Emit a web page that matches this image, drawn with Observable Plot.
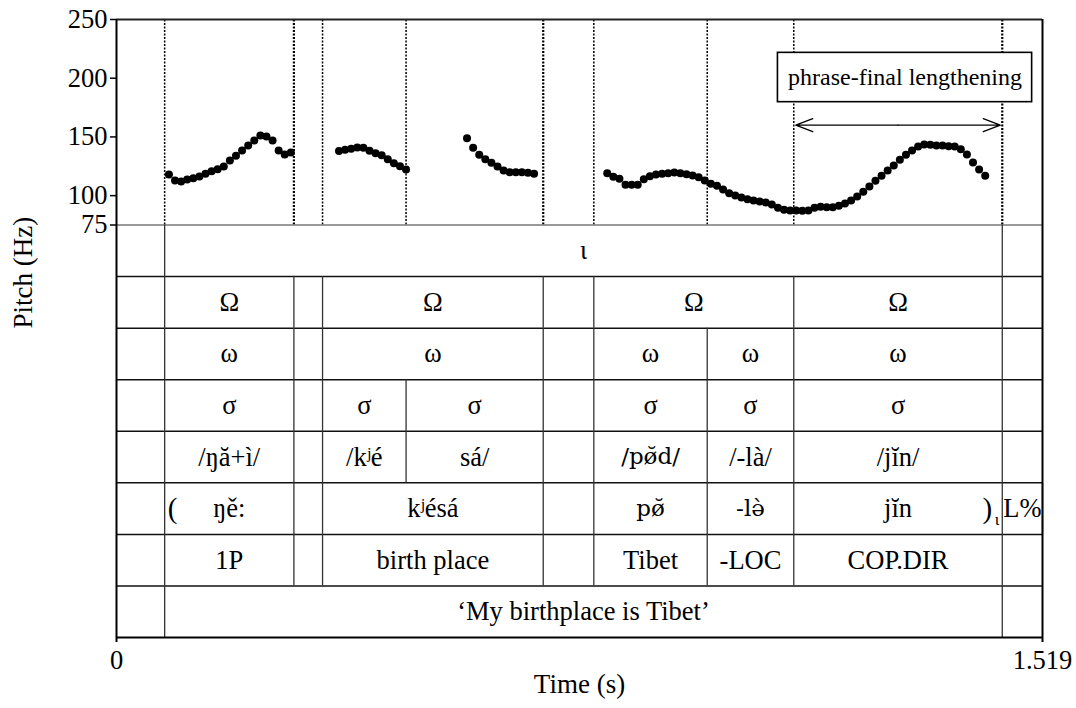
<!DOCTYPE html>
<html>
<head>
<meta charset="utf-8">
<script src="https://cdn.jsdelivr.net/npm/d3@7"></script>
<script src="https://cdn.jsdelivr.net/npm/@observablehq/plot@0.6"></script>
<style>
  html, body { margin: 0; padding: 0; background: #fff; }
  #chart svg { display: block; }
</style>
</head>
<body>
<div id="chart"></div>
<script>
// F0 track (Hz), one value every 10 ms across the four voiced stretches
const pitchTimes = [
  0.086, 0.096, 0.106, 0.116, 0.126, 0.136, 0.146, 0.156, 0.166, 0.176, 0.186,
  0.196, 0.206, 0.216, 0.226, 0.236, 0.246, 0.256, 0.266, 0.276, 0.286,
  0.365, 0.375, 0.385, 0.395, 0.405, 0.415, 0.425, 0.435, 0.445, 0.455, 0.465, 0.475,
  0.575, 0.585, 0.595, 0.605, 0.615, 0.625, 0.635, 0.645, 0.655, 0.665, 0.675, 0.685,
  0.805, 0.815, 0.825, 0.835, 0.845, 0.855, 0.865, 0.875, 0.885, 0.895,
  0.905, 0.915, 0.925, 0.935, 0.945, 0.955, 0.965, 0.975, 0.985, 0.995,
  1.005, 1.015, 1.025, 1.035, 1.045, 1.055, 1.065, 1.075, 1.085, 1.095,
  1.105, 1.115, 1.125, 1.135, 1.145, 1.155, 1.165, 1.175, 1.185, 1.195,
  1.205, 1.215, 1.225, 1.235, 1.245, 1.255, 1.265, 1.275, 1.285, 1.295,
  1.305, 1.315, 1.325, 1.335, 1.345, 1.355, 1.365, 1.375, 1.385, 1.395,
  1.405, 1.415, 1.425
];
const pitchHz = [
  118.0, 112.9, 112.0, 113.7, 114.9, 116.3, 118.6, 120.8, 122.5, 124.8, 129.9,
  133.9, 138.4, 142.7, 147.0, 151.2, 150.4, 147.0, 138.4, 135.0, 136.7,
  138.0, 139.0, 140.0, 141.0, 140.7, 138.3, 136.1, 134.4, 131.0, 127.6, 125.1, 122.3,
  148.9, 140.7, 134.8, 131.0, 128.0, 124.8, 121.4, 120.0, 120.0, 120.0, 119.5, 118.6,
  119.1, 116.0, 114.3, 109.2, 109.2, 109.2, 114.0, 116.6, 118.0, 118.6,
  119.1, 119.7, 119.1, 118.3, 117.2, 115.7, 112.9, 110.1, 108.4, 105.2,
  102.1, 100.1, 98.4, 97.0, 95.9, 95.0, 94.2, 92.5, 89.6, 87.9,
  87.3, 87.3, 87.1, 87.3, 89.6, 90.5, 90.2, 90.2, 91.4, 93.3,
  95.9, 99.3, 103.3, 107.8, 112.6, 116.9, 121.4, 125.7, 130.5, 134.8,
  138.4, 141.9, 143.6, 143.3, 142.7, 142.7, 142.1, 141.9, 139.6, 135.0,
  128.2, 122.3, 116.9
];

// Segmentation points (s)
const boundaryTimes = [0.079, 0.291, 0.338, 0.475, 0.700, 0.783, 0.969, 1.111, 1.453];

// Annotation tiers, top to bottom: [start, end, label]
const ipTier = [[0.079, 1.453, "ι"]];
const footTier = [
  [0.079, 0.291, "Ω"], [0.338, 0.700, "Ω"], [0.783, 1.111, "Ω"], [1.111, 1.453, "Ω"]
];
const wordTier = [
  [0.079, 0.291, "ω"], [0.338, 0.700, "ω"], [0.783, 0.969, "ω"], [0.969, 1.111, "ω"], [1.111, 1.453, "ω"]
];
const syllableTier = [
  [0.079, 0.291, "σ"], [0.338, 0.475, "σ"], [0.475, 0.700, "σ"],
  [0.783, 0.969, "σ"], [0.969, 1.111, "σ"], [1.111, 1.453, "σ"]
];
const phonemicTier = [
  [0.079, 0.291, "/ŋă+ì/"], [0.338, 0.475, "/kʲé"], [0.475, 0.700, "sá/"],
  [0.783, 0.969, "/pø̆d/"], [0.969, 1.111, "/-là/"], [1.111, 1.453, "/jĭn/"]
];
const phoneticTier = [
  [0.079, 0.291, "ŋě:"], [0.338, 0.700, "kʲésá"], [0.783, 0.969, "pø̆"],
  [0.969, 1.111, "-lə̀"], [1.111, 1.453, "jĭn"], [1.453, 1.519, "L%"]
];
const glossTier = [
  [0.079, 0.291, "1P"], [0.338, 0.700, "birth place"], [0.783, 0.969, "Tibet"],
  [0.969, 1.111, "-LOC"], [1.111, 1.453, "COP.DIR"]
];
const translationTier = [[0.079, 1.453, "‘My birthplace is Tibet’"]];

const tiers = [ipTier, footTier, wordTier, syllableTier, phonemicTier, phoneticTier, glossTier, translationTier];

// Intonational-phrase brackets drawn in the phonetic tier
const phraseStart = 0.079, phraseEnd = 1.453;
const bracketTier = 5;

// Lengthened stretch at the end of the phrase
const lengthening = { label: "phrase-final lengthening", start: 1.111, end: 1.453 };

const timeMax = 1.519;
const f0Min = 75, f0Max = 250;
const pitchTicks = [75, 100, 150, 200, 250];
const timeTicks = [0, 1.519];

// ---- layout ----
const W = 1076, H = 708;
const frameTop = 19, tierTop = 224.5, frameBottom = 637;
const frameLeft = 116, frameRight = 1042;
const nTiers = tiers.length;
const serif = "'Liberation Serif', 'Times New Roman', serif";
// combining diacritics need a font with mark positioning
const markSerif = "'DejaVu Serif', 'Liberation Serif', serif";

const pitch = pitchTimes.map((t, i) => ({ t, hz: pitchHz[i] }));
const cells = tiers.flatMap((rows, k) => rows.map(([start, end, label]) => ({ tier: k, start, end, label })));
const hasMark = d => /[\u0300-\u036f]/.test(d.label);
const cellEdges = tiers.flatMap((rows, k) =>
  Array.from(new Set(rows.flatMap(([s, e]) => [s, e]))).map(t => ({ tier: k, t }))
);

// foot ends not followed directly by another foot get a heavier dotted line
const footStarts = new Set(footTier.map(d => d[0]));
const heavyEdges = new Set(footTier.map(d => d[1]).filter(e => !footStarts.has(e)));

const mid = (lengthening.start + lengthening.end) / 2;
const arrowHz = 160;
const boxTimes = [1.085, 1.502];
const boxHz = [179.6, 221.6];

const cellText = {
  x: d => (d.start + d.end) / 2,
  y: d => -(d.tier + 0.5),
  text: "label",
  fill: "#000"
};

const chart = Plot.plot({
  width: W,
  height: H,
  marginTop: frameTop,
  marginBottom: H - frameBottom,
  marginLeft: frameLeft,
  marginRight: W - frameRight,
  style: {
    fontFamily: serif,
    fontSize: "26.5px",
    background: "#fff",
    color: "#000"
  },
  x: { domain: [0, timeMax], axis: null },
  y: {
    type: "linear",
    domain: [-nTiers, 0, f0Min, f0Max],
    range: [frameBottom, tierTop, tierTop, frameTop],
    axis: null
  },
  marks: [
    // dotted segmentation lines over the pitch panel
    Plot.ruleX(boundaryTimes, {
      x: d => d, y1: f0Min, y2: f0Max,
      stroke: "#000",
      strokeWidth: d => heavyEdges.has(d) ? 2.2 : 1.5,
      strokeDasharray: "2,1.5"
    }),
    // tier grid
    Plot.ruleY(d3.range(1, nTiers), { y: k => -k, stroke: "#111", strokeWidth: 1.5 }),
    Plot.ruleY([f0Min], { stroke: "#777", strokeWidth: 1.5 }),
    Plot.ruleX(cellEdges, { x: "t", y1: d => -d.tier, y2: d => -(d.tier + 1), stroke: "#333", strokeWidth: 1.3 }),
    // tier labels
    Plot.text(cells.filter(d => !hasMark(d)), { ...cellText, fontFamily: serif }),
    Plot.text(cells.filter(hasMark), { ...cellText, fontFamily: markSerif, fontSize: 23 }),
    Plot.text([phraseStart], { x: d => d, y: -(bracketTier + 0.5), text: ["("], textAnchor: "start", dx: 3, fontSize: 29 }),
    Plot.text([phraseEnd], { x: d => d, y: -(bracketTier + 0.5), text: [")"], textAnchor: "end", dx: -10, fontSize: 29 }),
    Plot.text([phraseEnd], { x: d => d, y: -(bracketTier + 0.5), text: ["ι"], textAnchor: "end", dx: -3, dy: 11, fontSize: 17 }),
    // annotation: box, label and double arrow
    Plot.rect([lengthening], {
      x1: boxTimes[0], x2: boxTimes[1], y1: boxHz[0], y2: boxHz[1],
      fill: "#fff", stroke: "#000", strokeWidth: 1.6
    }),
    Plot.text([lengthening], {
      x: (boxTimes[0] + boxTimes[1]) / 2, y: (boxHz[0] + boxHz[1]) / 2,
      text: "label", fontSize: 24
    }),
    Plot.arrow([{ a: mid, b: lengthening.start }, { a: mid, b: lengthening.end }], {
      x1: "a", x2: "b", y1: arrowHz, y2: arrowHz,
      stroke: "#000", strokeWidth: 1.3, headLength: 21, headAngle: 42, insetEnd: 2
    }),
    // pitch points
    Plot.dot(pitch, { x: "t", y: "hz", r: 4, fill: "#000" }),
    // frame
    Plot.ruleY([f0Max], { stroke: "#222", strokeWidth: 2 }),
    Plot.ruleY([-nTiers], { stroke: "#000", strokeWidth: 2 }),
    Plot.ruleX([0, timeMax], { y1: -nTiers, y2: f0Max, stroke: "#000", strokeWidth: 2 }),
    // axes
    Plot.axisY(pitchTicks, { tickSize: 6, tickPadding: 3, strokeWidth: 1.5, label: null, tickFormat: d => String(d) }),
    Plot.axisX(timeTicks, { tickSize: 5, tickPadding: 8, strokeWidth: 2, label: null, tickFormat: d => String(d) }),
    Plot.text(["Pitch (Hz)"], { frameAnchor: "left", dx: -93, rotate: -90, fontSize: 27 }),
    Plot.text(["Time (s)"], { frameAnchor: "bottom", dy: 55, fontSize: 27 })
  ]
});

document.getElementById("chart").appendChild(chart);
</script>
</body>
</html>
